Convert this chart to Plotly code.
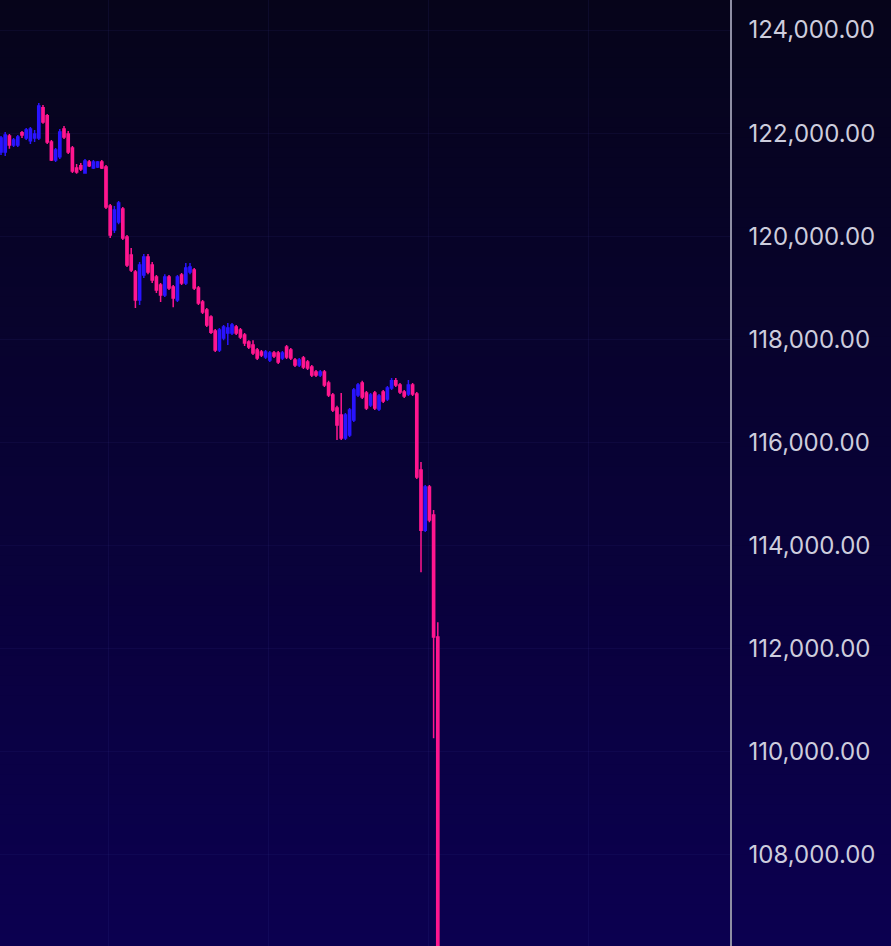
import plotly.graph_objects as go

# ---- data (prices) ----
opens = [121635,121635,121945,121770,121770,122005,121905,121850,121905,121905,
         122490,122335,121830,121480,121540,122080,121985,121710,121325,121365,
         121225,121440,121325,121345,121440,121345,120585,
         120120,120275,120530,119985,119635,119305,118765,119250,119595,119440,
         119210,119055,118860,119210,119015,118765,119250,119095,119305,119345,
         118995,118725,118570,118435,118160,117795,118025,118125,118125,118240,
         118180,118085,117950,117890,117795,117755,117660,117600,117735,117735,
         117640,117850,117795,117600,117505,117640,117560,117465,117365,117310,
         117365,117155,116920,116670,116535,116085,116145,116435,116920,117155,
         116960,116725,116960,116650,116980,116845,117055,117195,117115,116980,116940,
         117115,116940,115465,114300,115135,114595,112225]
highs = [121945,122020,121985,121905,121965,122040,122100,122120,122060,122585,
         122545,122370,121865,121710,122080,122140,122040,121750,121400,121420,
         121500,121480,121480,121460,121480,121380,120625,
         120585,120685,120565,120025,119770,119345,119500,119655,119655,119500,
         119250,119095,119265,119250,119055,119250,119285,119480,119480,119385,
         119035,118765,118610,118470,118200,118220,118280,118315,118315,118280,
         118220,118125,117985,117985,117830,117795,117795,117775,117775,117775,
         117775,117890,117830,117640,117640,117675,117600,117505,117405,117405,
         117405,117195,116960,116710,116960,116570,116670,117055,117155,117195,
         117000,116960,117000,116940,117020,117095,117250,117250,117155,117020,117210,
         117155,116980,115620,115175,115175,114690,112515]
lows = [121575,121555,121695,121730,121730,121905,121865,121790,121830,121865,
        122180,121790,121460,121440,121500,121885,121595,121225,121210,121265,
        121210,121345,121305,121325,121305,120530,119965,
        120065,120235,119925,119405,119305,118610,118665,119190,119265,119095,
        118900,118725,118820,118955,118625,118725,119055,119055,119265,118955,
        118665,118490,118240,118105,117755,117755,117985,117890,118085,118085,
        118005,117870,117815,117695,117600,117660,117620,117560,117640,117520,
        117600,117620,117600,117465,117465,117425,117405,117270,117270,117270,
        117075,116880,116590,116050,116050,116050,116105,116395,116880,116845,
        116630,116690,116630,116610,116765,116805,117020,117075,116940,116865,116900,
        116900,115290,113485,114265,114455,110265,105400]
closes = [121905,121965,121770,121865,121925,121965,122060,122080,121985,122525,
          122215,121830,121480,121675,122020,121925,121635,121265,121245,121305,
          121460,121365,121440,121440,121325,120565,120025,
          120510,120645,119965,119440,119345,118765,119440,119595,119305,119150,
          118955,118860,119210,118995,118800,119210,119095,119385,119405,118995,
          118705,118530,118280,118140,117795,118180,118240,118220,118280,118125,
          118045,117930,117850,117735,117640,117695,117755,117735,117675,117560,
          117735,117660,117640,117505,117600,117465,117445,117310,117310,117365,
          117115,116920,116630,116340,116085,116535,116630,117020,117115,116880,
          116670,116920,116670,116900,116805,117055,117195,117115,116980,116900,117115,
          116940,115330,114300,115135,114495,112225,105600]

y_ticks = [108000, 110000, 112000, 114000, 116000, 118000, 120000, 122000, 124000]
y_range = [106234, 124582]

x = list(range(len(opens)))

fig = go.Figure(go.Candlestick(
    x=x, open=opens, high=highs, low=lows, close=closes,
    increasing=dict(line=dict(color="#2a14ff", width=1.5), fillcolor="#2a14ff"),
    decreasing=dict(line=dict(color="#ff168f", width=1.5), fillcolor="#ff168f"),
    whiskerwidth=0,
    hoverinfo="skip",
))

# gradient background as stacked bands
top = (6, 4, 26)
bot = (11, 0, 80)
n = 95
shapes = []
for k in range(n):
    t = k / (n - 1)
    c = tuple(round(top[j] + (bot[j] - top[j]) * t) for j in range(3))
    shapes.append(dict(type="rect", xref="paper", yref="paper",
                       x0=-0.01, x1=1.26, y0=1 - (k + 1) / n, y1=1 - k / n + 0.002,
                       fillcolor="rgb(%d,%d,%d)" % c, line=dict(width=0), layer="below"))

step = 4.2
grid_x = [(px - 1) / step for px in (108, 268, 428, 588)]

fig.update_layout(
    width=891, height=946,
    margin=dict(l=0, r=161, t=0, b=0),
    paper_bgcolor="rgb(8,2,50)",
    plot_bgcolor="rgba(0,0,0,0)",
    shapes=shapes,
    showlegend=False,
    boxgap=0.25,
    xaxis=dict(range=[-1 / step, 729 / step], showticklabels=False,
               rangeslider=dict(visible=False), tickmode="array", tickvals=grid_x,
               showgrid=True, gridcolor="rgba(70,70,170,0.11)", gridwidth=1,
               zeroline=False, showline=False, ticks=""),
    yaxis=dict(side="right", range=y_range, tickmode="array", tickvals=y_ticks,
               tickformat=",.2f", showgrid=True, gridcolor="rgba(70,70,170,0.10)",
               gridwidth=1, zeroline=False, showline=True, linecolor="#8e8ea4",
               linewidth=1.5, ticks="", ticklabelstandoff=12,
               tickfont=dict(family="Inter", size=24, color="#cdcddd")),
)

fig.write_html("out.html", config={"displayModeBar": False},
               post_script="document.body.style.margin='0';document.body.style.background='rgb(11,0,80)';")
